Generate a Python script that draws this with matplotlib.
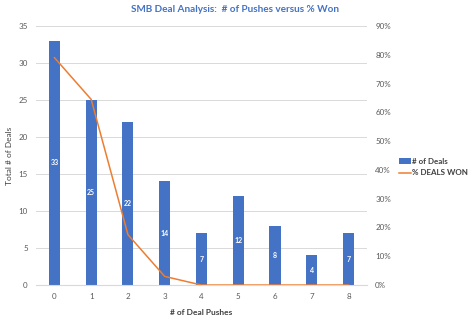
import matplotlib
matplotlib.use('Agg')
import matplotlib.pyplot as plt
from matplotlib.ticker import FuncFormatter

plt.rcParams['font.family'] = ['Lato', 'DejaVu Sans']

pushes = [0, 1, 2, 3, 4, 5, 6, 7, 8]
deals = [33, 25, 22, 14, 7, 12, 8, 4, 7]
pct_won = [0.79, 0.645, 0.175, 0.03, 0.0, 0.0, 0.0, 0.0, 0.0]

blue = '#4472C4'
orange = '#ED7D31'
grey = '#595959'

fig = plt.figure(figsize=(4.68, 3.21), dpi=100)
ax = fig.add_axes([0.077, 0.112, 0.707, 0.807])
bars = ax.bar(pushes, deals, width=0.3, color=blue, label='# of Deals', zorder=2)
for x, v in zip(pushes, deals):
    ax.text(x, v / 2, str(v), ha='center', va='center', color='white', fontsize=5, fontweight='bold', zorder=3)
ax.set_xlim(-0.5, 8.5)
ax.set_ylim(0, 35)
ax.set_yticks(range(0, 36, 5))
ax.set_xticks(pushes)
ax.grid(axis='y', color='#D9D9D9', lw=0.7, zorder=0)
ax.set_axisbelow(True)
for s in ax.spines.values():
    s.set_visible(False)
ax.spines['bottom'].set_visible(True)
ax.spines['bottom'].set_color('#D9D9D9')
ax.tick_params(length=0, labelsize=5.8, labelcolor=grey, pad=6)
ax.set_ylabel('Total # of Deals', fontsize=6, color='#404040', labelpad=4)
ax.set_xlabel('# of Deal Pushes', fontsize=6, color='#404040', fontweight='bold', labelpad=6)

ax2 = ax.twinx()
line, = ax2.plot(pushes, pct_won, color=orange, lw=1.1, label='% DEALS WON', zorder=4)
ax2.set_ylim(0, 0.9)
ax2.set_yticks([i / 10 for i in range(10)])
ax2.yaxis.set_major_formatter(FuncFormatter(lambda v, p: f'{v*100:.0f}%'))
for s in ax2.spines.values():
    s.set_visible(False)
ax2.tick_params(length=0, labelsize=5.8, labelcolor=grey, pad=6)

fig.legend([bars, line], ['# of Deals', '% DEALS WON'], loc='center left', bbox_to_anchor=(0.845, 0.48),
           frameon=False, fontsize=5.8, labelcolor='#404040', handlelength=1.5, handletextpad=0.2,
           borderaxespad=0, labelspacing=0.6, prop={'weight': 'bold', 'size': 5.8})

fig.suptitle('SMB Deal Analysis:  # of Pushes versus % Won', x=0.503, y=0.985, fontsize=7.2,
             fontweight='bold', color=blue)

fig.savefig('out.png', dpi=100)
